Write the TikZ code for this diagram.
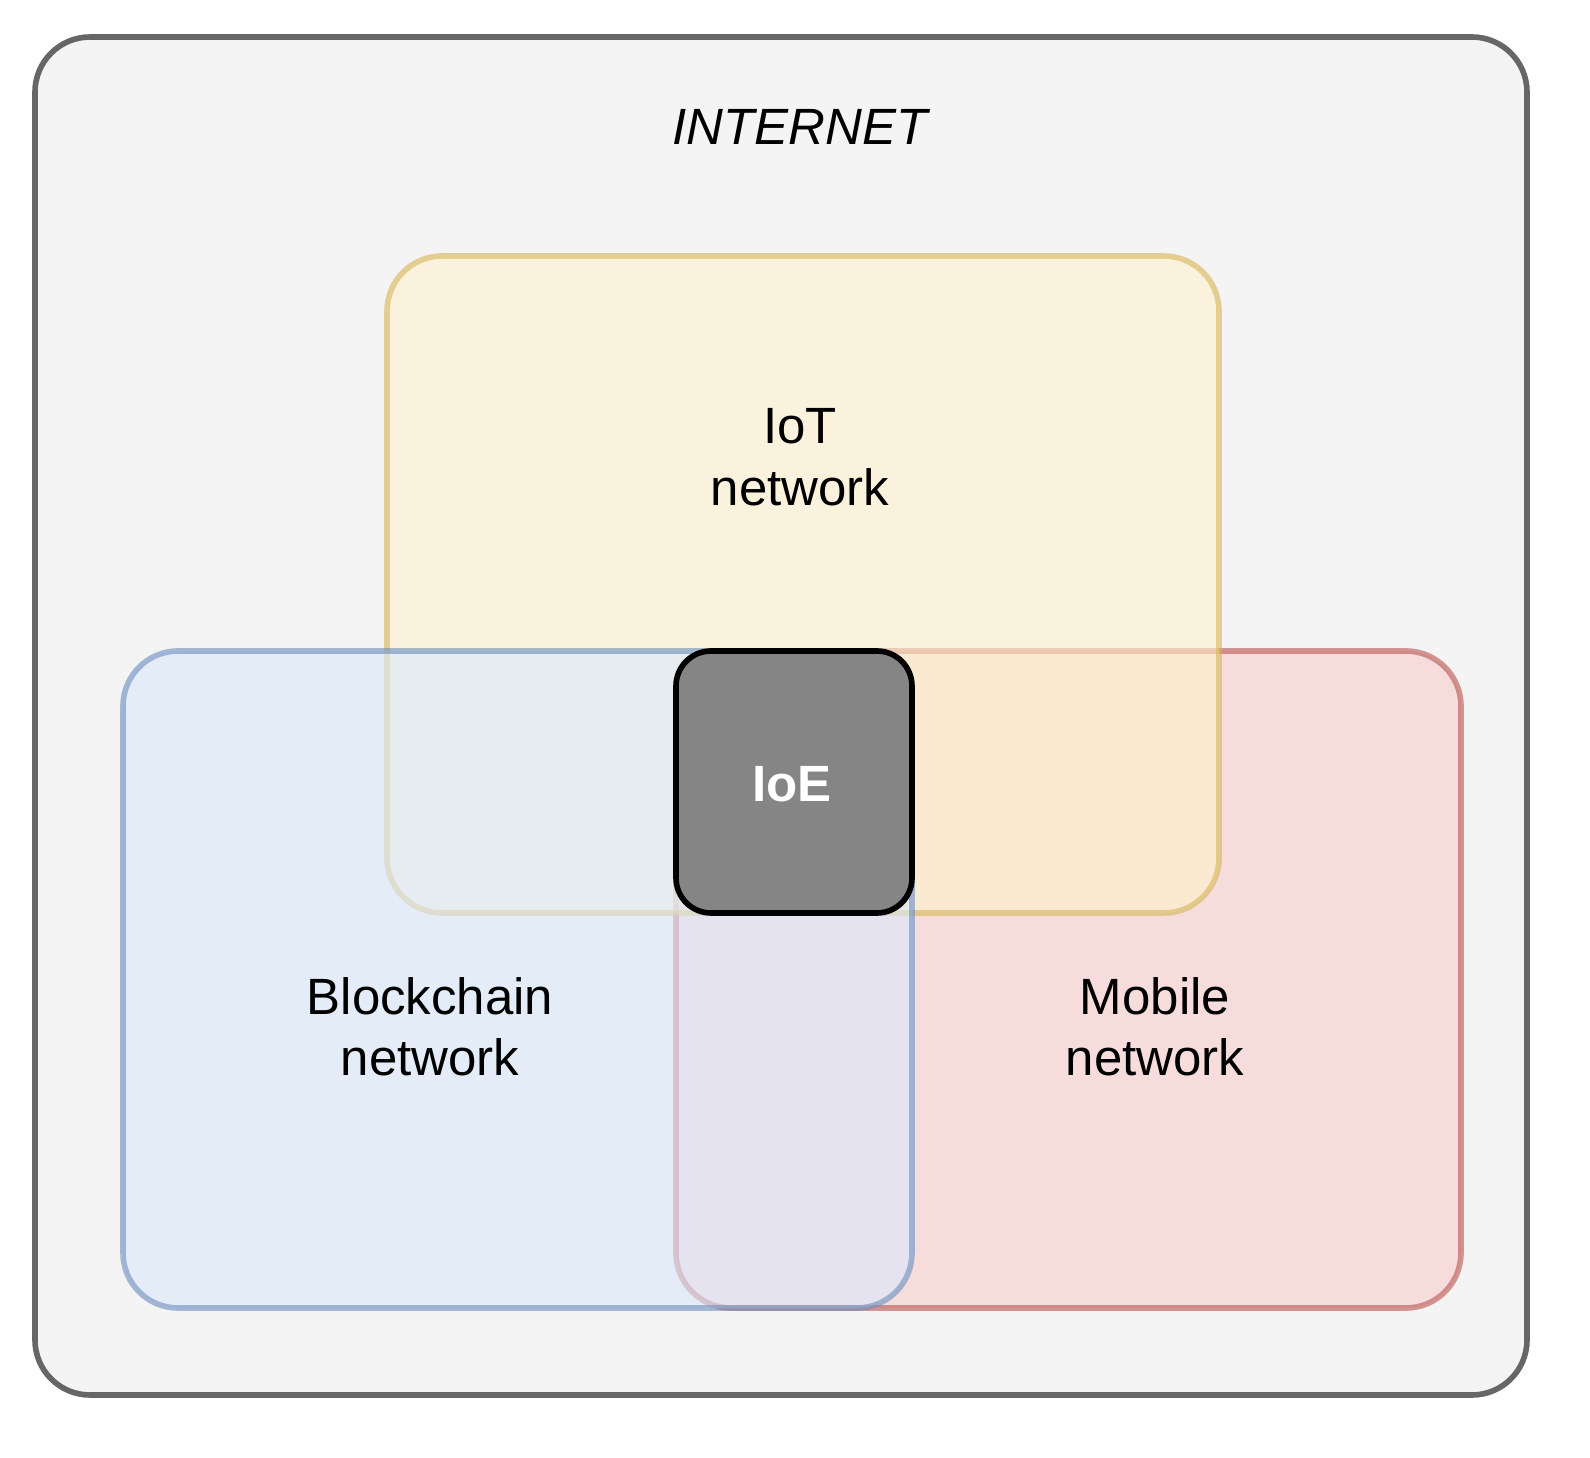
\documentclass[tikz,border=0pt]{standalone}
\usepackage{fontspec}
\setmainfont{Liberation Sans}
\definecolor{netgray}{HTML}{F4F4F4}
\definecolor{iotfill}{HTML}{FFF2CC}
\definecolor{iotline}{HTML}{D6B656}
\definecolor{bcfill}{HTML}{DAE8FC}
\definecolor{bcline}{HTML}{6C8EBF}
\definecolor{mobfill}{HTML}{F8CECC}
\definecolor{mobline}{HTML}{B85450}
\tikzset{
	netbox/.style={rounded corners=0.55cm,line width=1.6pt,fill opacity=0.6,draw opacity=0.6},
	label/.style={align=center,font=\fontsize{14.5}{17.5}\selectfont}
}
\begin{document}
\begin{tikzpicture}[x=0.01cm,y=-0.01cm]
\useasboundingbox (0,0) rectangle (1590,1458);
% internet
\draw[rounded corners=0.55cm,line width=1.6pt,draw=black!60,fill=netgray] (35,37) rectangle (1527,1395);
\node[label,font=\fontsize{14.5}{17.5}\selectfont\itshape] (internet) at (800,127) {INTERNET};
% networks
\draw[netbox,fill=mobfill,draw=mobline] (676,651) rectangle (1461,1308);
\draw[netbox,fill=iotfill,draw=iotline] (387,256) rectangle (1219,913);
\draw[netbox,fill=bcfill,draw=bcline] (123,651) rectangle (912,1308);
\node[label] (iot) at (800,457) {IoT\\network};
\node[label] (chain) at (430,1027) {Blockchain\\ network};
\node[label] (mobile) at (1155,1027) {Mobile\\network};
% core
\draw[rounded corners=0.35cm,line width=1.6pt,fill=black!48] (676,651) rectangle (912,913);
\node[label,font=\fontsize{14.5}{17.5}\selectfont\bfseries,text=white] (ioe) at (792,784) {IoE};
\end{tikzpicture}
\end{document}
